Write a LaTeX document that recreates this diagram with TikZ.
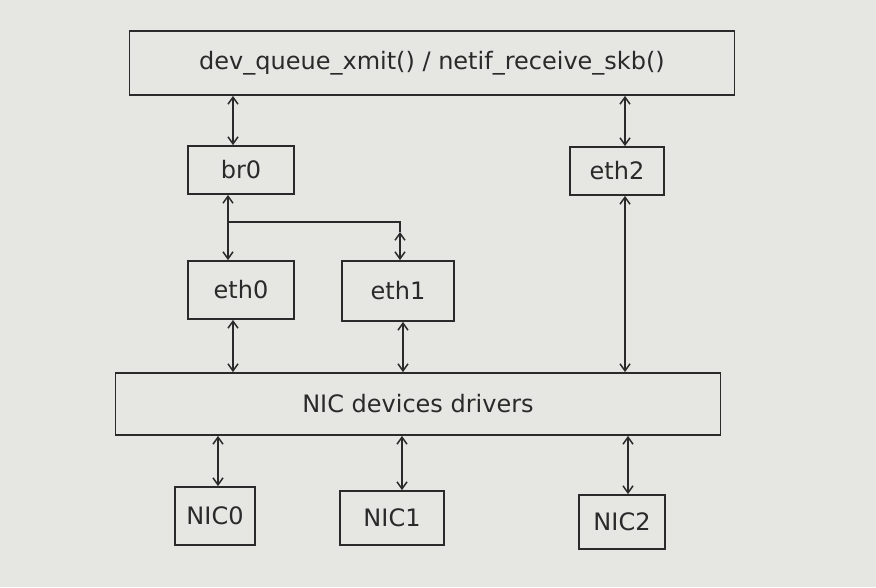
\documentclass[tikz,border=0pt]{standalone}
\usepackage{fontspec}
\setmainfont{DejaVu Sans}
\usetikzlibrary{arrows.meta}
\definecolor{paper}{HTML}{E6E6E3}
\definecolor{ink}{HTML}{2A2A2A}
\tikzset{
  box/.style={draw=ink, line width=1.8pt, rectangle, inner sep=0pt, text=ink},
  link/.style={draw=ink, line width=1.5pt, {Straight Barb[length=7pt,width=10pt]}-{Straight Barb[length=7pt,width=10pt]}},
  plain/.style={draw=ink, line width=1.5pt},
  txt/.style={font=\fontsize{24}{28}\selectfont}
}
\begin{document}
\begin{tikzpicture}[x=1pt,y=-1pt]
\fill[paper] (0,0) rectangle (876,587);
\useasboundingbox (0,0) rectangle (876,587);
% boxes
\node[box, minimum width=605pt, minimum height=64pt, txt] (top) at (432,63) {dev\_queue\_xmit() / netif\_receive\_skb()};
\node[box, minimum width=106pt, minimum height=48pt, txt] (br0) at (241,170) {br0};
\node[box, minimum width=94pt, minimum height=48pt, txt] (eth2) at (617,171) {eth2};
\node[box, minimum width=106pt, minimum height=58pt, txt] (eth0) at (241,290) {eth0};
\node[box, minimum width=112pt, minimum height=60pt, txt] (eth1) at (398,291) {eth1};
\node[box, minimum width=605pt, minimum height=62pt, txt] (drv) at (418,404) {NIC devices drivers};
\node[box, minimum width=80pt, minimum height=58pt, txt] (nic0) at (215,516) {NIC0};
\node[box, minimum width=104pt, minimum height=54pt, txt] (nic1) at (392,518) {NIC1};
\node[box, minimum width=86pt, minimum height=54pt, txt] (nic2) at (622,522) {NIC2};
% connectors top
\draw[link] (top.south -| 233,0) -- (br0.north -| 233,0);
\draw[link] (top.south -| 625,0) -- (eth2.north -| 625,0);
% bridge
\coordinate (j) at (228,222);
\coordinate (k) at (400,232);
\draw[link] (br0.south -| j) -- (eth0.north -| j);
\draw[plain] (j) -| (k);
\draw[link] (k) -- (eth1.north -| k);
% to drivers
\draw[link] (eth0.south -| 233,0) -- (drv.north -| 233,0);
\draw[link] (eth1.south -| 403,0) -- (drv.north -| 403,0);
\draw[link] (eth2.south -| 625,0) -- (drv.north -| 625,0);
% to NICs
\draw[link] (drv.south -| 218,0) -- (nic0.north -| 218,0);
\draw[link] (drv.south -| 402,0) -- (nic1.north -| 402,0);
\draw[link] (drv.south -| 628,0) -- (nic2.north -| 628,0);
\end{tikzpicture}
\end{document}
